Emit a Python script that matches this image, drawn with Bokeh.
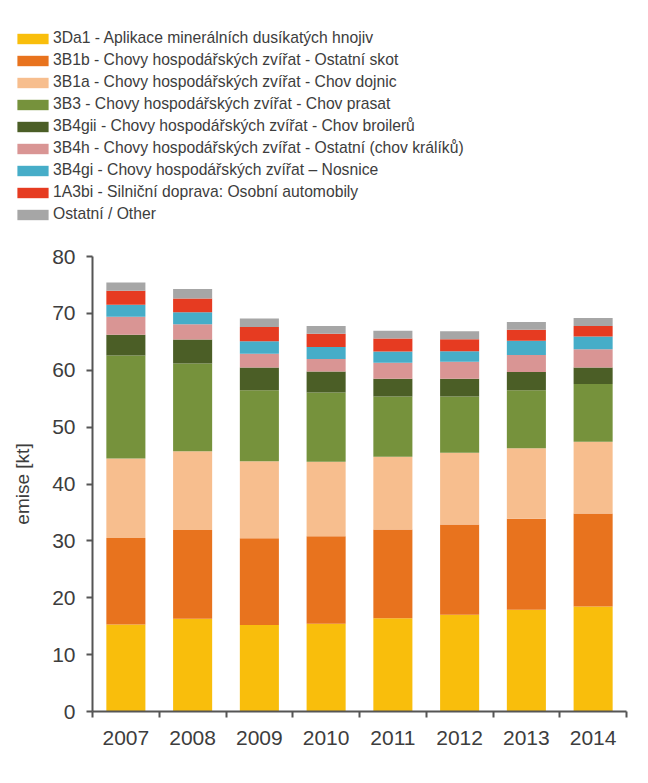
from bokeh.plotting import figure
from bokeh.layouts import column
from bokeh.models import Range1d, FixedTicker, Legend, LegendItem, ColumnDataSource
from bokeh.embed import file_html
from bokeh.resources import INLINE

years = [2007, 2008, 2009, 2010, 2011, 2012, 2013, 2014]

s_3Da1 = [15.3, 16.3, 15.2, 15.45, 16.4, 17.0, 17.9, 18.45]
s_3B1b = [15.2, 15.6, 15.25, 15.35, 15.6, 15.9, 16.0, 16.35]
s_3B1a = [14.0, 13.85, 13.55, 13.1, 12.8, 12.6, 12.4, 12.65]
s_3B3 = [18.1, 15.45, 12.5, 12.2, 10.6, 9.9, 10.2, 10.15]
s_3B4gii = [3.65, 4.2, 4.0, 3.7, 3.1, 3.1, 3.2, 2.9]
s_3B4h = [3.15, 2.7, 2.4, 2.2, 2.8, 3.0, 3.0, 3.2]
s_3B4gi = [2.1, 2.1, 2.2, 2.1, 2.0, 1.85, 2.5, 2.25]
s_1A3bi = [2.5, 2.4, 2.5, 2.3, 2.3, 2.1, 1.9, 1.85]
s_other = [1.45, 1.7, 1.5, 1.4, 1.35, 1.4, 1.4, 1.4]

series = [s_3Da1, s_3B1b, s_3B1a, s_3B3, s_3B4gii, s_3B4h, s_3B4gi, s_1A3bi, s_other]
labels = [
    "3Da1 - Aplikace minerálních dusíkatých hnojiv",
    "3B1b - Chovy hospodářských zvířat - Ostatní skot",
    "3B1a - Chovy hospodářských zvířat - Chov dojnic",
    "3B3 - Chovy hospodářských zvířat - Chov prasat",
    "3B4gii - Chovy hospodářských zvířat - Chov broilerů",
    "3B4h - Chovy hospodářských zvířat - Ostatní (chov králíků)",
    "3B4gi - Chovy hospodářských zvířat – Nosnice",
    "1A3bi - Silniční doprava: Osobní automobily",
    "Ostatní / Other",
]
colors = ["#F9BE0C", "#E8731E", "#F7BE8E", "#76923C", "#4B5E26",
          "#D99594", "#46ADC8", "#E63B21", "#A6A6A6"]

FONT = "Liberation Sans"
TXT = "#3d3d3d"

# ---- legend panel (top) ----
lg = figure(width=648, height=246, output_backend="svg", toolbar_location=None,
            x_range=Range1d(0, 1), y_range=Range1d(0, 1),
            x_axis_location=None, y_axis_location=None, min_border=0)
lg.frame_align = False
lg.outline_line_color = None
lg.xgrid.visible = False
lg.ygrid.visible = False
items = []
for vals, lab, col in zip(series, labels, colors):
    # legend proxies: same data, but outside this panel's visible range
    r = lg.vbar(x=years, top=vals, width=0.585, fill_color=col, line_color=None)
    items.append(LegendItem(label=lab, renderers=[r]))
legend = Legend(items=items, location=(13, 22), padding=0, margin=0,
                spacing=2, label_height=20, glyph_height=13, glyph_width=39,
                label_standoff=1, border_line_color=None,
                background_fill_alpha=0, label_text_font=FONT,
                label_text_font_size="15.7px", label_text_color=TXT)
lg.add_layout(legend, "center")

# ---- main chart ----
p = figure(width=648, height=537, output_backend="svg", toolbar_location=None,
           x_range=Range1d(2006.5, 2014.5), y_range=Range1d(0, 80),
           min_border_left=92, min_border_right=22, min_border_top=10,
           min_border_bottom=72)
p.frame_align = False
p.outline_line_color = None
p.xgrid.visible = False
p.ygrid.visible = False

bottom = [0.0] * len(years)
for vals, col in zip(series, colors):
    top = [b + v for b, v in zip(bottom, vals)]
    src = ColumnDataSource(dict(x=years, bottom=bottom, top=top))
    p.vbar(x="x", bottom="bottom", top="top", width=0.585, source=src,
           fill_color=col, line_color=None)
    bottom = top

# x axis
boundaries = [y - 0.5 for y in years] + [years[-1] + 0.5]
p.xaxis.ticker = FixedTicker(ticks=years, minor_ticks=boundaries)
p.xaxis.major_tick_out = 0
p.xaxis.major_tick_in = 0
p.xaxis.minor_tick_out = 6
p.xaxis.minor_tick_in = 0
p.xaxis.minor_tick_line_color = "#555555"
p.xaxis.minor_tick_line_width = 2
p.xaxis.axis_line_color = "#555555"
p.xaxis.axis_line_width = 2
p.xaxis.major_label_text_font = FONT
p.xaxis.major_label_text_font_size = "21px"
p.xaxis.major_label_text_color = TXT
p.xaxis.major_label_standoff = 13

# y axis
p.yaxis.ticker = FixedTicker(ticks=list(range(0, 81, 10)))
p.yaxis.major_tick_out = 6
p.yaxis.major_tick_in = 0
p.yaxis.minor_tick_line_color = None
p.yaxis.major_tick_line_color = "#555555"
p.yaxis.major_tick_line_width = 2
p.yaxis.axis_line_color = "#555555"
p.yaxis.axis_line_width = 2
p.yaxis.major_label_text_font = FONT
p.yaxis.major_label_text_font_size = "21px"
p.yaxis.major_label_text_color = TXT
p.yaxis.major_label_standoff = 11
p.yaxis.axis_label = "emise [kt]"
p.yaxis.axis_label_text_font = FONT
p.yaxis.axis_label_text_font_size = "19px"
p.yaxis.axis_label_text_font_style = "normal"
p.yaxis.axis_label_text_color = TXT
p.yaxis.axis_label_standoff = 16

layout = column(lg, p, spacing=0)
open("out.html", "w").write(file_html(layout, INLINE))
